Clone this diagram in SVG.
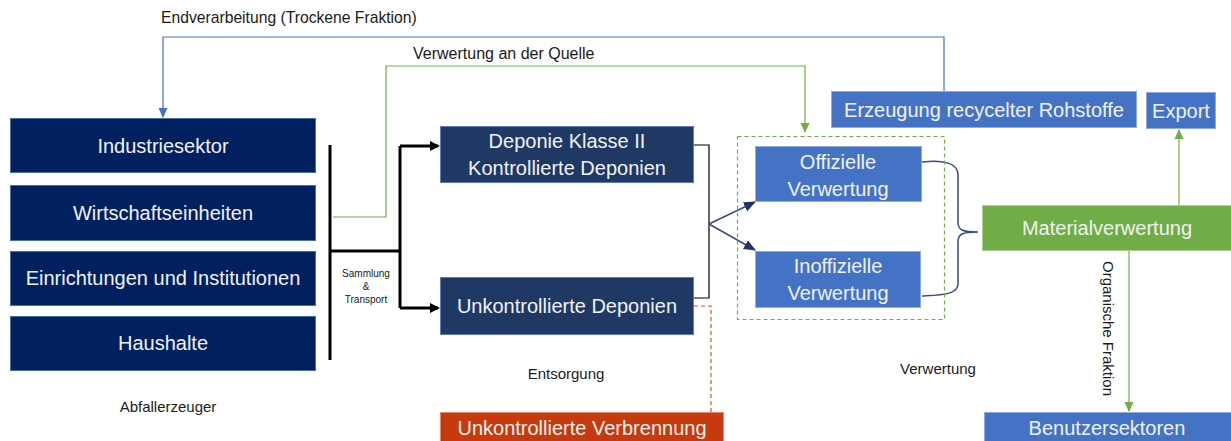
<svg xmlns="http://www.w3.org/2000/svg" width="1231" height="441" viewBox="0 0 1231 441">
<style>
  text { font-family: "Liberation Sans", Arial, sans-serif; }
  .nt { fill: #F2F2F2; font-size: 20px; text-anchor: middle; }
  .lb { fill: #1A1A1A; font-size: 15px; }
  .sm { fill: #1A1A1A; font-size: 10px; text-anchor: middle; }
  .navy { fill: #002060; stroke: #4A6FA5; stroke-width: 1; }
  .dep { fill: #203864; stroke: #5B7DB8; stroke-width: 1; }
  .blue { fill: #4472C4; stroke: #8FAADC; stroke-width: 1; }
  .green { fill: #70AD47; stroke: #A9D18E; stroke-width: 1; }
  .red { fill: #C63A0E; stroke: #E48A6A; stroke-width: 1; }
  .k3 { fill: none; stroke: #000; stroke-width: 3; }
  .k1 { fill: none; stroke: #000; stroke-width: 1.2; }
  .gl { fill: none; stroke: #70AD47; stroke-width: 1.2; }
  .bl { fill: none; stroke: #4472C4; stroke-width: 1.2; }
  .nv { fill: none; stroke: #3B4A82; stroke-width: 1.5; }
</style>
<defs>
  <marker id="mk" markerWidth="10" markerHeight="10" refX="8" refY="5" orient="auto" markerUnits="userSpaceOnUse">
    <path d="M0,0 L10,5 L0,10 Z" fill="#000"/>
  </marker>
  <marker id="mg" markerWidth="10" markerHeight="10" refX="9" refY="5" orient="auto" markerUnits="userSpaceOnUse">
    <path d="M0,0.5 L10,5 L0,9.5 Z" fill="#70AD47"/>
  </marker>
  <marker id="mb" markerWidth="10" markerHeight="10" refX="9" refY="5" orient="auto" markerUnits="userSpaceOnUse">
    <path d="M0,0.5 L10,5 L0,9.5 Z" fill="#4472C4"/>
  </marker>
  <marker id="mn" markerWidth="12" markerHeight="10" refX="11" refY="5" orient="auto" markerUnits="userSpaceOnUse">
    <path d="M0,0 L12,5 L0,10 Z" fill="#26305F"/>
  </marker>
</defs>

<g id="connectors">
  <path class="bl" d="M944,91 L944,37 L163,37 L163,117" marker-end="url(#mb)"/>
  <path class="gl" d="M333,217 L386,217 L386,66 L805,66 L805,132" marker-end="url(#mg)"/>
  <path class="k3" d="M330,145 L330,360"/>
  <path class="k3" d="M330,251 L400,251"/>
  <path class="k3" d="M400,146 L400,308"/>
  <path class="k3" d="M400,146 L438,146" marker-end="url(#mk)"/>
  <path class="k3" d="M400,308 L438,308" marker-end="url(#mk)"/>
  <path class="k1" d="M694,145 L709,145 L709,298 L694,298"/>
  <path class="nv" d="M709,224 L755,202" marker-end="url(#mn)"/>
  <path class="nv" d="M709,224 L755,250" marker-end="url(#mn)"/>
  <path fill="none" stroke="#E0502A" stroke-width="1.2" stroke-dasharray="4,3" d="M694,306 L711,306 L711,412"/>
  <path class="nv" d="M922,162 C942,160 958,162 958,175 L958,222 C958,230 962,232 978,232 C962,232 958,234 958,242 L958,284 C958,295 940,295 922,296"/>
  <path class="gl" d="M1179,205 L1179,130" marker-end="url(#mg)"/>
  <path class="gl" d="M1129,251 L1129,411" marker-end="url(#mg)"/>
</g>

<g id="verwertung-frame">
  <rect x="737.5" y="136.5" width="207" height="183" fill="none" stroke="#70AD47" stroke-width="1.2" stroke-dasharray="4,3"/>
</g>

<g id="label-endverarbeitung"><text class="lb" x="161" y="23" style="font-size:15.7px">Endverarbeitung (Trockene Fraktion)</text></g>
<g id="label-quelle"><text class="lb" x="413" y="59" style="font-size:16px">Verwertung an der Quelle</text></g>
<g id="label-sammlung">
  <text class="sm" x="366" y="277">Sammlung</text>
  <text class="sm" x="366" y="290">&amp;</text>
  <text class="sm" x="366" y="303">Transport</text>
</g>
<g id="label-entsorgung"><text class="lb" x="566" y="379" text-anchor="middle">Entsorgung</text></g>
<g id="label-verwertung"><text class="lb" x="938" y="374" text-anchor="middle">Verwertung</text></g>
<g id="label-abfallerzeuger"><text class="lb" x="168" y="412" text-anchor="middle">Abfallerzeuger</text></g>
<g id="label-organisch"><text class="lb" transform="translate(1103,261) rotate(90)">Organische Fraktion</text></g>

<g id="n-industriesektor"><rect class="navy" x="10.5" y="118.5" width="305" height="54"/><text class="nt" x="163" y="153">Industriesektor</text></g>
<g id="n-wirtschaftseinheiten"><rect class="navy" x="10.5" y="185.5" width="305" height="55"/><text class="nt" x="163" y="220">Wirtschaftseinheiten</text></g>
<g id="n-einrichtungen"><rect class="navy" x="10.5" y="251.5" width="305" height="54"/><text class="nt" x="163" y="285">Einrichtungen und Institutionen</text></g>
<g id="n-haushalte"><rect class="navy" x="10.5" y="316.5" width="305" height="54"/><text class="nt" x="163" y="350">Haushalte</text></g>

<g id="n-deponie2"><rect class="dep" x="440.5" y="126.5" width="253" height="56"/><text class="nt" x="567" y="148">Deponie Klasse II</text><text class="nt" x="567" y="175">Kontrollierte Deponien</text></g>
<g id="n-unkontrolliert"><rect class="dep" x="440.5" y="277.5" width="253" height="57"/><text class="nt" x="567" y="313">Unkontrollierte Deponien</text></g>
<g id="n-verbrennung"><rect class="red" x="440.5" y="412.5" width="283" height="30"/><text class="nt" x="582" y="435">Unkontrollierte Verbrennung</text></g>

<g id="n-offiziell"><rect class="blue" x="755.5" y="146.5" width="166" height="55"/><text class="nt" x="838" y="169">Offizielle</text><text class="nt" x="838" y="196">Verwertung</text></g>
<g id="n-inoffiziell"><rect class="blue" x="755.5" y="251.5" width="165" height="56"/><text class="nt" x="838" y="273">Inoffizielle</text><text class="nt" x="838" y="300">Verwertung</text></g>

<g id="n-erzeugung"><rect class="blue" x="831.5" y="91.5" width="305" height="36"/><text class="nt" x="984" y="117">Erzeugung recycelter Rohstoffe</text></g>
<g id="n-export"><rect class="blue" x="1146.5" y="92.5" width="69" height="36"/><text class="nt" x="1181" y="118">Export</text></g>
<g id="n-material"><rect class="green" x="982.5" y="205.5" width="250" height="45"/><text class="nt" x="1107" y="235">Materialverwertung</text></g>
<g id="n-benutzer"><rect class="blue" x="984.5" y="412.5" width="248" height="30"/><text class="nt" x="1107" y="435">Benutzersektoren</text></g>
</svg>
